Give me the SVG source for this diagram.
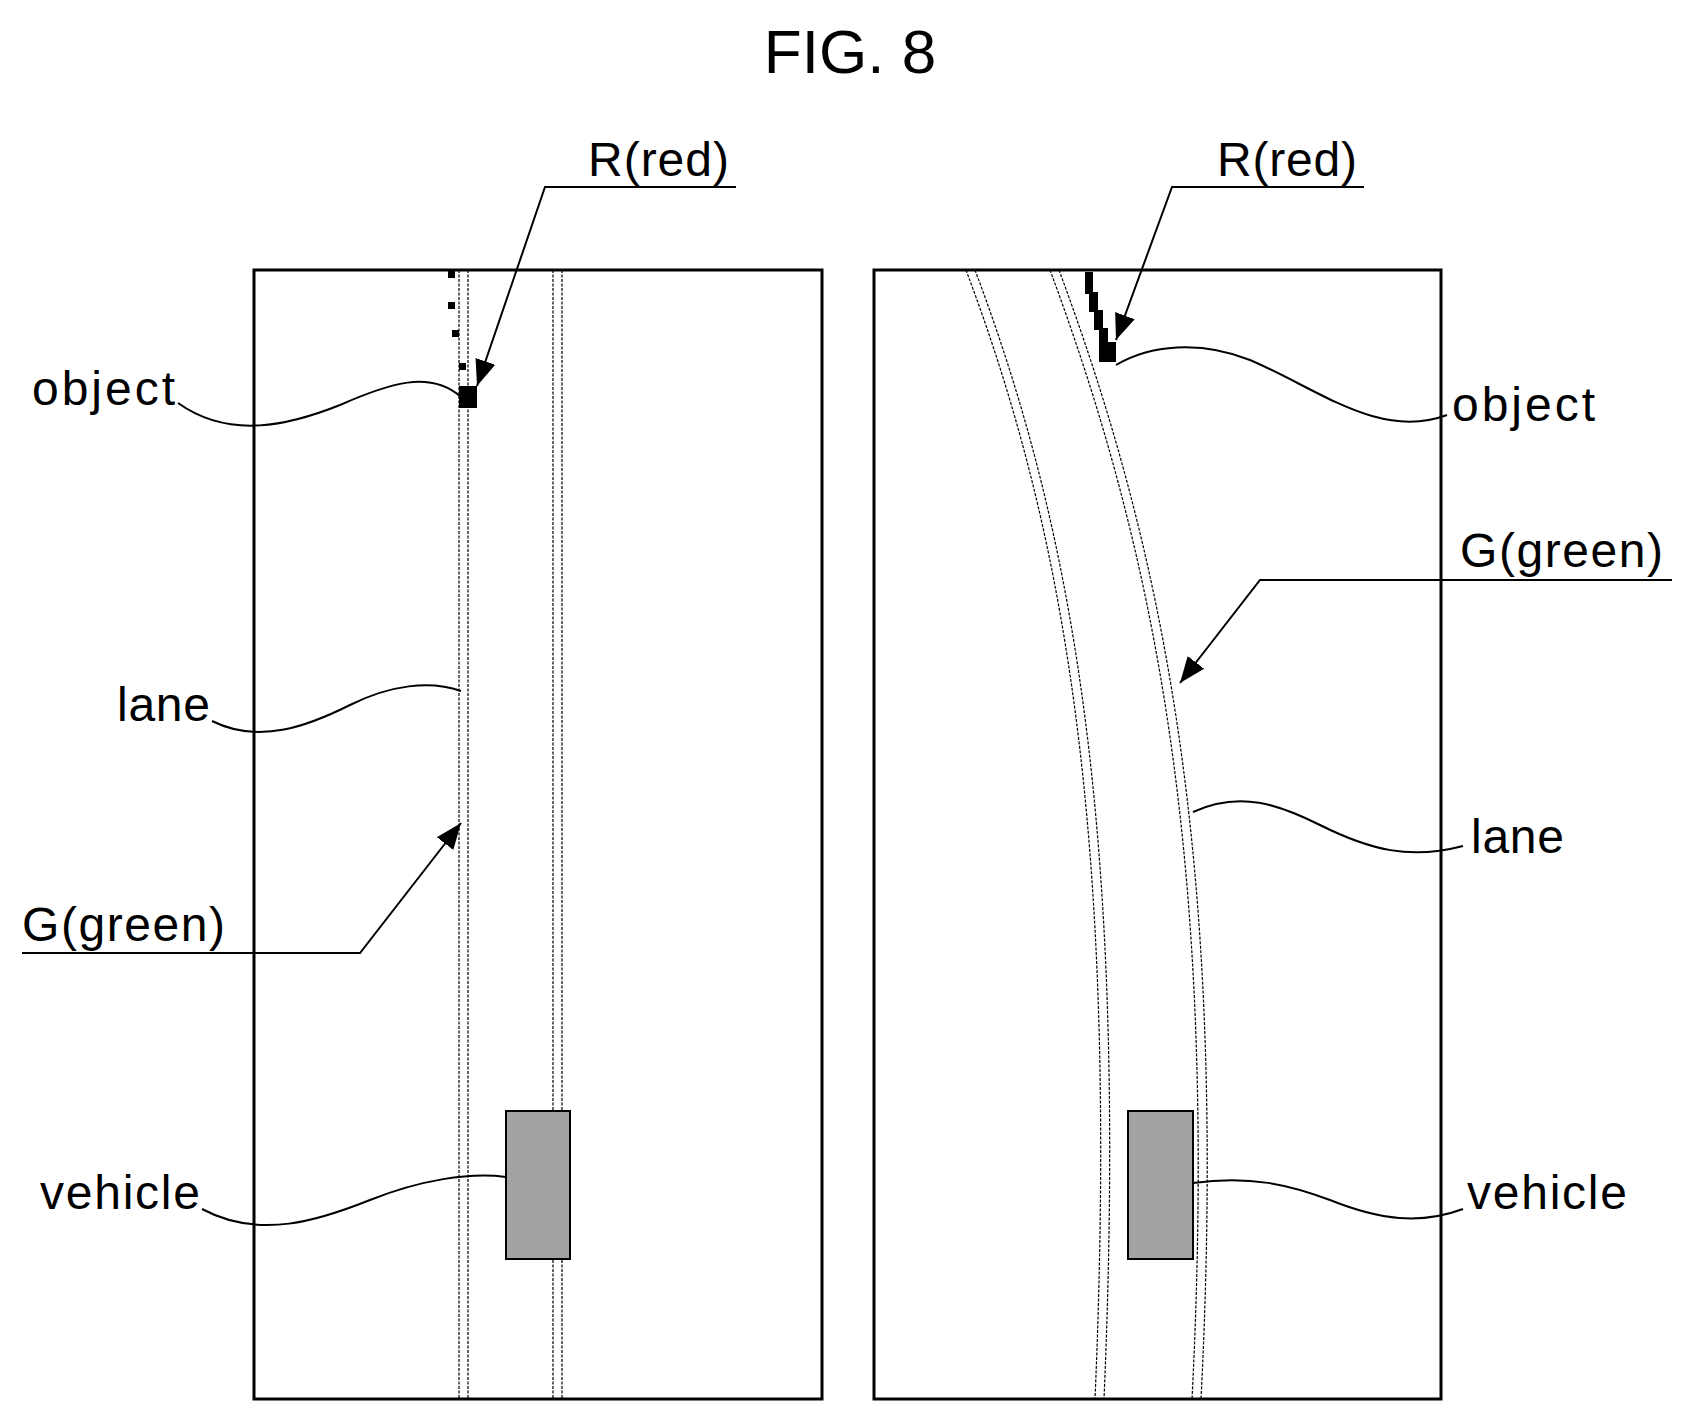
<svg xmlns="http://www.w3.org/2000/svg" width="1684" height="1414" viewBox="0 0 1684 1414">
<style>
text{font-family:"Liberation Sans",Arial,sans-serif;font-size:48px;fill:#000}
.box{fill:none;stroke:#000;stroke-width:3}
.lane{fill:none;stroke:#000;stroke-width:1.2;stroke-dasharray:3 1.5}
.ld{fill:none;stroke:#000;stroke-width:2}
.veh{fill:#a3a3a3;stroke:#000;stroke-width:2}
</style>
<defs>
<marker id="ah" viewBox="0 0 10 10" refX="10" refY="5" markerWidth="26" markerHeight="26" markerUnits="userSpaceOnUse" orient="auto">
<path d="M0,1 L10,5 L0,9 z" fill="#000"/>
</marker>
</defs>
<rect width="1684" height="1414" fill="#fff"/>
<text x="850" y="73" text-anchor="middle" style="font-size:62px">FIG. 8</text>

<g id="left-panel">
<rect class="box" x="254" y="270" width="568" height="1129"/>
<line class="lane" x1="459" y1="270" x2="459" y2="1399"/>
<line class="lane" x1="468" y1="270" x2="468" y2="1399"/>
<line class="lane" x1="553" y1="270" x2="553" y2="1399"/>
<line class="lane" x1="562" y1="270" x2="562" y2="1399"/>
</g>
<g id="left-object">
<rect x="448" y="271" width="7" height="7"/>
<rect x="448" y="302" width="7" height="7"/>
<rect x="452" y="330" width="7" height="7"/>
<rect x="459" y="363" width="7" height="7"/>
<rect x="459" y="386" width="18" height="22"/>
</g>
<g id="left-vehicle"><rect class="veh" x="506" y="1111" width="64" height="148"/></g>

<g id="right-panel">
<rect class="box" x="874" y="270" width="567" height="1129"/>
<path class="lane" d="M966,270 C1060,520 1120,820 1095,1399"/>
<path class="lane" d="M975,270 C1069,520 1129,820 1104,1399"/>
<path class="lane" d="M1050,270 C1150,540 1220,850 1192,1399"/>
<path class="lane" d="M1059,270 C1159,540 1229,850 1201,1399"/>
</g>
<g id="right-object">
<rect x="1085" y="272" width="8" height="22"/>
<rect x="1089" y="292" width="9" height="20"/>
<rect x="1094" y="310" width="9" height="20"/>
<rect x="1099" y="328" width="9" height="16"/>
<rect x="1099" y="342" width="17" height="20"/>
</g>
<g id="right-vehicle"><rect class="veh" x="1128" y="1111" width="65" height="148"/></g>

<g id="labels">
<text x="588" y="176" textLength="141">R(red)</text>
<text x="1217" y="176" textLength="140">R(red)</text>
<text x="32" y="405" textLength="143">object</text>
<text x="1452" y="421" textLength="143">object</text>
<text x="117" y="721" textLength="93">lane</text>
<text x="1471" y="853" textLength="93">lane</text>
<text x="22" y="941" textLength="203">G(green)</text>
<text x="1460" y="567" textLength="203">G(green)</text>
<text x="40" y="1209" textLength="160">vehicle</text>
<text x="1467" y="1209" textLength="160">vehicle</text>
</g>

<g id="connectors">
<polyline class="ld" points="736,187 545,187 477,386" marker-end="url(#ah)"/>
<polyline class="ld" points="1364,187 1172,187 1116,340" marker-end="url(#ah)"/>
<polyline class="ld" points="22,953 360,953 461,823" marker-end="url(#ah)"/>
<polyline class="ld" points="1672,580 1260,580 1180,683" marker-end="url(#ah)"/>
<path class="ld" d="M178,403 C230,440 290,425 340,405 C390,383 430,370 461,397"/>
<path class="ld" d="M212,721 C260,745 310,725 350,705 C390,685 430,680 461,691"/>
<path class="ld" d="M202,1209 C260,1240 320,1220 370,1200 C420,1180 470,1172 506,1177"/>
<path class="ld" d="M1116,365 C1150,345 1200,340 1250,360 C1320,390 1380,440 1447,415"/>
<path class="ld" d="M1193,812 C1240,790 1280,805 1320,825 C1370,850 1410,860 1463,846"/>
<path class="ld" d="M1193,1183 C1250,1175 1290,1185 1330,1200 C1380,1220 1420,1225 1463,1209"/>
</g>
</svg>
